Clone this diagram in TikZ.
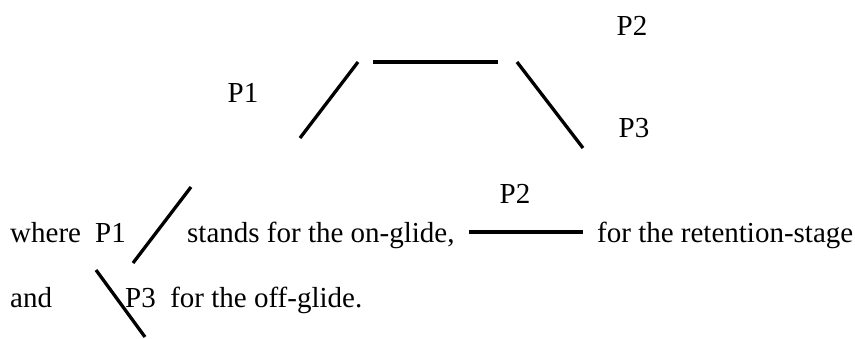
\documentclass[tikz,border=0pt]{standalone}
\usepackage{fontspec}
\setmainfont{Liberation Serif}
\begin{document}
\begin{tikzpicture}[x=1pt,y=-1pt,
  seg/.style={line width=3.3pt},
  txt/.style={anchor=base west,inner sep=0pt,font=\fontsize{29}{33}\selectfont},
  lbl/.style={anchor=base,inner sep=0pt,font=\fontsize{29}{33}\selectfont}]
\useasboundingbox (0,0) rectangle (855,338);
% top figure
\coordinate (a1) at (300,138); \coordinate (a2) at (358,62);
\coordinate (b1) at (373,62);  \coordinate (b2) at (498,62);
\coordinate (c1) at (517,62);  \coordinate (c2) at (583,148);
\draw[seg] (a1) -- (a2);
\draw[seg] (b1) -- (b2);
\draw[seg] (c1) -- (c2);
\node[lbl] (p2top) at (632,35) {P2};
\node[lbl] (p1top) at (243,102) {P1};
\node[lbl] (p3top) at (634,137) {P3};
% legend
\node[txt] (where) at (10,242) {where};
\node[txt] (p1) at (95,242) {P1};
\coordinate (d1) at (133,263); \coordinate (d2) at (191,187);
\draw[seg] (d1) -- (d2);
\node[txt] (stands) at (187,242) {stands for the on-glide,};
\node[lbl] (p2) at (515,203) {P2};
\coordinate (e1) at (469,232); \coordinate (e2) at (583,232);
\draw[seg] (e1) -- (e2);
\node[txt] (ret) at (597,242) {for the retention-stage};
\node[txt] (and) at (10,307) {and};
\coordinate (f1) at (96,270); \coordinate (f2) at (145,337);
\draw[seg] (f1) -- (f2);
\node[txt] (off) at (125,307) {P3\ \ for the off-glide.};
\end{tikzpicture}
\end{document}
